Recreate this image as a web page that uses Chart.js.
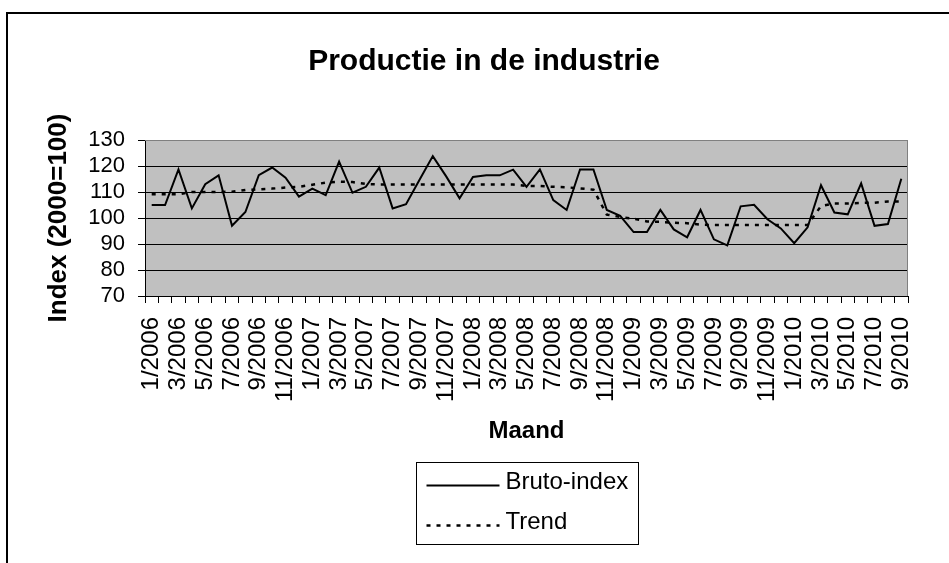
<!DOCTYPE html>
<html>
<head>
<meta charset="utf-8">
<title>Productie in de industrie</title>
<script src="https://cdn.jsdelivr.net/npm/chart.js@4.4.1/dist/chart.umd.min.js"></script>
<style>
  html, body { margin: 0; padding: 0; background: #fff; overflow: hidden; }
  #wrap { width: 968px; height: 563px; }
</style>
</head>
<body>
<div id="wrap"><canvas id="chart" width="968" height="563"></canvas></div>
<script>
// maanden 1/2006 t/m 9/2010
const years = [2006, 2007, 2008, 2009, 2010];
const lastMonth = 9;
const months = [];
years.forEach(y => {
  for (let m = 1; m <= 12; m++) {
    if (y === years[years.length - 1] && m > lastMonth) break;
    months.push(m + '/' + y);
  }
});

const bruto = [
  105, 105, 118.7, 103.7, 113, 116.4, 97, 102.3, 116.5, 119.4, 115.5, 108.2,
  111.3, 108.8, 121.7, 109.7, 112, 119.4, 103.7, 105.3, 114.6, 123.8, 116, 107.6,
  115.8, 116.4, 116.4, 118.6, 112, 118.7, 106.9, 103.1, 118.7, 118.7, 103.1, 100.8,
  94.6, 94.6, 103.1, 95.6, 92.6, 103.1, 91.8, 89.5, 104.5, 105.1, 99.5, 96,
  90.3, 96.4, 112.6, 102.1, 101.4, 113.3, 97, 97.7, 115.1
];
const trend = [
  109.1, 109.1, 109.1, 110, 110, 110, 110.1, 110.8, 111, 111.3, 111.7, 112,
  112.8, 113.6, 114, 113.8, 113.1, 112.9, 112.9, 112.9, 112.9, 112.9, 112.9, 112.9,
  112.9, 112.9, 112.9, 112.9, 112.3, 112.3, 112, 111.8, 111.4, 110.9, 101.3, 100.4,
  99.7, 98.7, 98.5, 98.2, 98, 97.4, 97.3, 97.3, 97.3, 97.3, 97.3, 97.3,
  97.3, 97.3, 104.6, 105.6, 105.6, 105.8, 105.9, 106.3, 106.3
];
const yTicks = [70, 80, 90, 100, 110, 120, 130];

const FONT = '"Liberation Sans", Arial, sans-serif';
Chart.defaults.font.family = FONT;
Chart.defaults.color = '#000';

// witte achtergrond, kader en grijs tekengebied
const frame = {
  id: 'frame',
  beforeDraw(chart) {
    const {ctx, chartArea: a} = chart;
    ctx.save();
    ctx.fillStyle = '#fff';
    ctx.fillRect(0, 0, chart.width, chart.height);
    ctx.strokeStyle = '#000';
    ctx.lineWidth = 2;
    ctx.strokeRect(7, 13, chart.width + 50, chart.height + 50);
    ctx.fillStyle = '#c0c0c0';
    ctx.fillRect(a.left, a.top, a.right - a.left, a.bottom - a.top);
    ctx.restore();
  },
  beforeDatasetsDraw(chart) {
    const {ctx, chartArea: a} = chart;
    ctx.save();
    ctx.strokeStyle = '#808080';
    ctx.lineWidth = 1;
    ctx.beginPath();
    ctx.moveTo(a.left, a.top + 0.5);
    ctx.lineTo(a.right - 0.5, a.top + 0.5);
    ctx.lineTo(a.right - 0.5, a.bottom);
    ctx.stroke();
    ctx.restore();
  }
};

// legenda in een kader onder de grafiek
const boxLegend = {
  id: 'boxLegend',
  afterDraw(chart, args, opts) {
    const {ctx, chartArea: a} = chart;
    const x0 = Math.round((a.left + a.right) / 2 - opts.width / 2) + 0.5;
    const y0 = opts.top + 0.5;
    ctx.save();
    ctx.strokeStyle = '#000';
    ctx.lineWidth = 1;
    ctx.strokeRect(x0, y0, opts.width, opts.height);
    ctx.font = opts.font;
    ctx.textBaseline = 'middle';
    ctx.fillStyle = '#000';
    chart.data.datasets.forEach((ds, i) => {
      const y = opts.top + opts.rowY[i];
      ctx.beginPath();
      ctx.lineWidth = ds.borderWidth;
      ctx.setLineDash(ds.borderDash || []);
      ctx.moveTo(x0 + 10, y + 3);
      ctx.lineTo(x0 + 83, y + 3);
      ctx.stroke();
      ctx.setLineDash([]);
      ctx.fillText(ds.label, x0 + 89, y);
    });
    ctx.restore();
  }
};

new Chart(document.getElementById('chart'), {
  type: 'line',
  data: {
    labels: months,
    datasets: [
      { label: 'Bruto-index', data: bruto, borderColor: '#000', borderWidth: 2, pointRadius: 0, tension: 0 },
      { label: 'Trend', data: trend, borderColor: '#000', borderWidth: 2.5, borderDash: [4, 6], pointRadius: 0, tension: 0 }
    ]
  },
  options: {
    responsive: false,
    animation: false,
    devicePixelRatio: 1,
    layout: { padding: 0 },
    plugins: {
      legend: { display: false },
      tooltip: { enabled: false },
      title: {
        display: true,
        text: 'Productie in de industrie',
        color: '#000',
        font: { size: 30, weight: 'bold' },
        padding: { top: 44, bottom: 60 }
      },
      boxLegend: { top: 462, width: 222, height: 82, rowY: [20.5, 60.5], font: '24px ' + FONT }
    },
    scales: {
      x: {
        offset: true,
        grid: { offset: true, drawOnChartArea: false, color: '#000', tickLength: 7 },
        border: { color: '#000' },
        ticks: {
          autoSkip: false,
          minRotation: 90,
          maxRotation: 90,
          padding: 14,
          color: '#000',
          font: { size: 24 },
          callback(v, i) { return i % 2 === 0 ? this.getLabelForValue(v) : ''; }
        },
        title: {
          display: true,
          text: 'Maand',
          color: '#000',
          font: { size: 24, weight: 'bold' },
          padding: { top: 0, bottom: 117 }
        },
        afterFit(scale) {
          scale.height = 267;
          scale.paddingLeft = 0;
          scale.paddingRight = 60;
        }
      },
      y: {
        min: yTicks[0],
        max: yTicks[yTicks.length - 1],
        ticks: {
          autoSkip: false,
          stepSize: yTicks[1] - yTicks[0],
          padding: 13,
          color: '#000',
          font: { size: 22, lineHeight: 1 }
        },
        grid: {
          color: c => (c.tick && c.tick.value === yTicks[yTicks.length - 1]) ? '#808080' : '#000',
          tickColor: '#000',
          tickLength: 7
        },
        border: { color: '#000' },
        title: {
          display: true,
          text: 'Index (2000=100)',
          color: '#000',
          font: { size: 26, weight: 'bold' },
          padding: { top: 43, bottom: 0 }
        },
        afterFit(scale) { scale.width = 145; }
      }
    }
  },
  plugins: [frame, boxLegend]
});
</script>
</body>
</html>
